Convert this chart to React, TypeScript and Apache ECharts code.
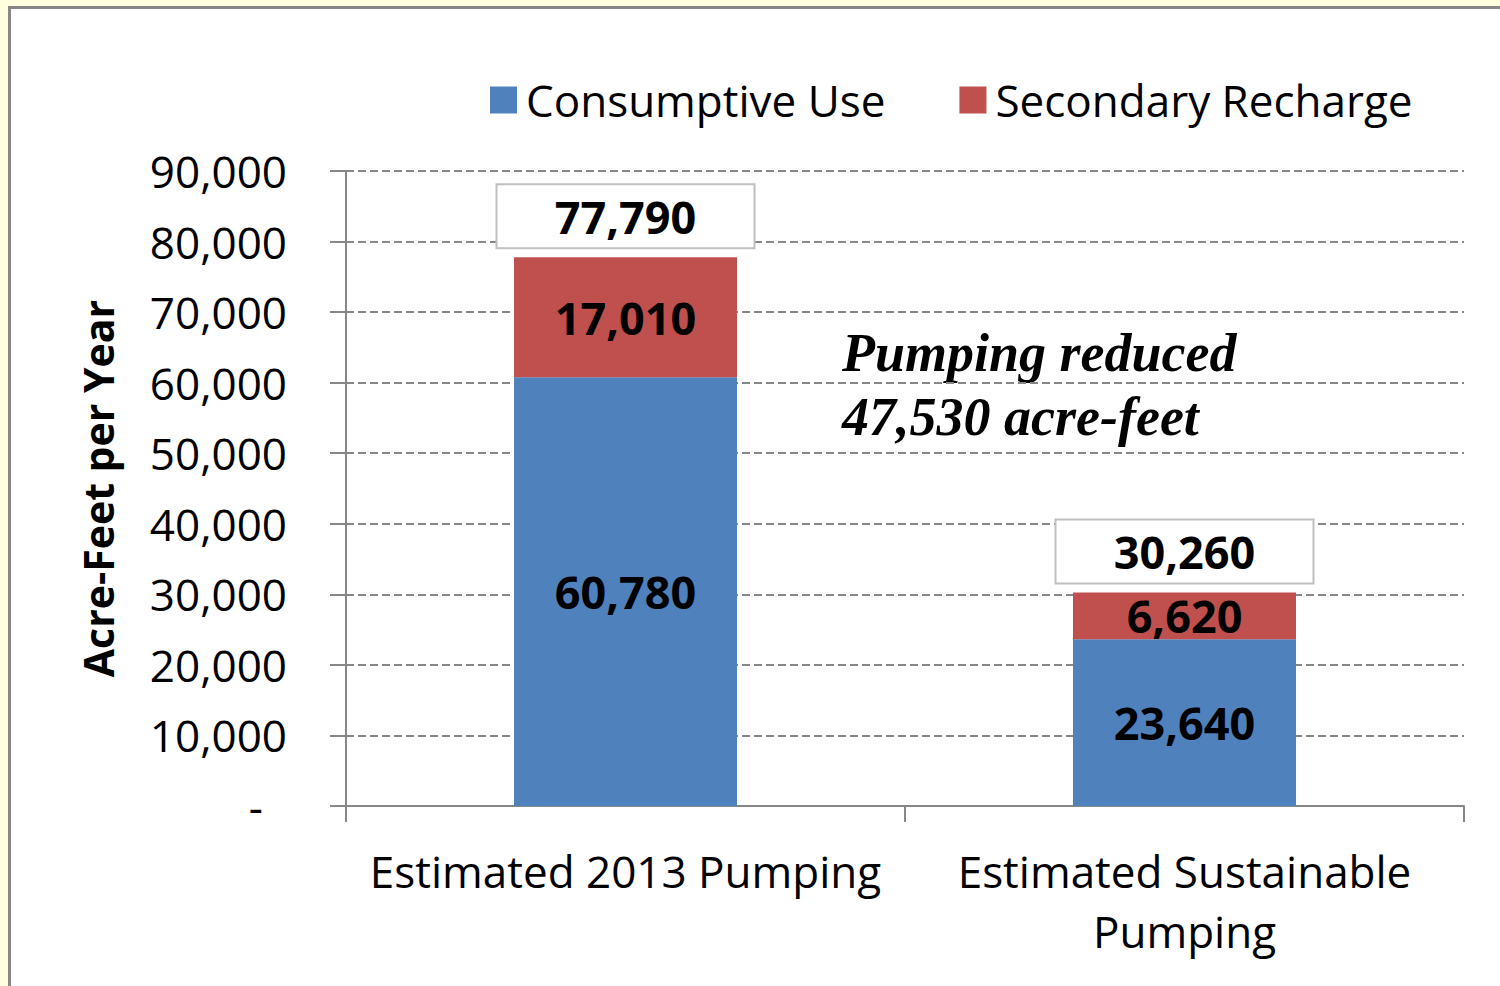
import React, { useEffect, useRef } from "react";
import * as echarts from "echarts";

const categories = ["Estimated 2013 Pumping", "Estimated Sustainable\nPumping"];
const consumptiveUse = [60780, 23640];
const secondaryRecharge = [17010, 6620];
const totals = consumptiveUse.map((v, i) => v + secondaryRecharge[i]);
const yTicks = [0, 10000, 20000, 30000, 40000, 50000, 60000, 70000, 80000, 90000];
const annotationLines = ["Pumping reduced", "47,530 acre-feet"];

const FONT = "'Open Sans', 'Noto Sans', sans-serif";
const GREY = "#878787";
const fmt = (v: number) => v.toLocaleString("en-US");

export default function App() {
  const ref = useRef<HTMLDivElement>(null);
  useEffect(() => {
    if (!ref.current) return;
    const chart = echarts.init(ref.current, undefined, { renderer: "svg" });
    const labelStyle = {
      show: true,
      position: "inside",
      color: "#000",
      fontFamily: FONT,
      fontWeight: "bold",
      fontSize: 45,
      formatter: (p: any) => fmt(p.value),
    };
    chart.setOption({
      animation: false,
      backgroundColor: "transparent",
      textStyle: { fontFamily: FONT },
      legend: {
        data: ["Consumptive Use", "Secondary Recharge"],
        top: 73,
        left: 485,
        itemWidth: 27,
        itemHeight: 27,
        itemGap: 74,
        icon: "rect",
        textStyle: { fontSize: 44, color: "#000", fontFamily: FONT, padding: [0, 0, 0, 4] },
      },
      grid: { left: 346, right: 36, top: 171, bottom: 180, containLabel: false },
      xAxis: {
        type: "category",
        data: categories,
        axisLine: { show: true, lineStyle: { color: GREY, width: 2 } },
        axisTick: { show: true, length: 16, lineStyle: { color: GREY, width: 2 } },
        axisLabel: {
          color: "#000",
          fontSize: 44,
          fontFamily: FONT,
          lineHeight: 60,
          margin: 35,
          interval: 0,
        },
      },
      yAxis: {
        type: "value",
        min: yTicks[0],
        max: yTicks[yTicks.length - 1],
        interval: yTicks[1] - yTicks[0],
        name: "Acre-Feet per Year",
        nameLocation: "middle",
        nameRotate: 90,
        nameGap: 228,
        nameTextStyle: { fontSize: 41, fontWeight: "bold", color: "#000", fontFamily: FONT },
        axisLine: { show: true, lineStyle: { color: GREY, width: 2 } },
        axisTick: { show: true, length: 16, lineStyle: { color: GREY, width: 2 } },
        axisLabel: {
          color: "#000",
          fontSize: 44,
          fontFamily: FONT,
          margin: 59,
          formatter: (v: number) => (v === 0 ? "{z|-}" : fmt(v)),
          rich: { z: { fontSize: 44, color: "#000", fontFamily: FONT, padding: [0, 24, 0, 0] } },
        },
        splitLine: { show: true, lineStyle: { color: GREY, width: 2, type: [8, 4] } },
      },
      series: [
        {
          name: "Consumptive Use",
          type: "bar",
          stack: "total",
          barWidth: 223,
          data: consumptiveUse,
          itemStyle: { color: "#4F81BD" },
          label: labelStyle,
        },
        {
          name: "Secondary Recharge",
          type: "bar",
          stack: "total",
          barWidth: 223,
          data: secondaryRecharge,
          itemStyle: { color: "#C0504D" },
          label: labelStyle,
        },
        {
          name: "Total",
          type: "bar",
          stack: "total",
          barWidth: 223,
          data: totals.map(() => 0),
          itemStyle: { color: "transparent" },
          label: {
            show: true,
            position: "top",
            distance: 10,
            color: "#000",
            fontFamily: FONT,
            fontWeight: "bold",
            fontSize: 45,
            width: 256,
            height: 62,
            lineHeight: 62,
            align: "center",
            backgroundColor: "#fff",
            borderColor: "#BFBFBF",
            borderWidth: 2,
            formatter: (p: any) => fmt(totals[p.dataIndex]),
          },
        },
      ],
      graphic: [
        {
          type: "text",
          left: 842,
          top: 321,
          style: {
            text: annotationLines.join("\n"),
            font: "italic bold 54px 'Liberation Serif', 'Times New Roman', serif",
            lineHeight: 64,
            fill: "#000",
          },
        },
      ],
    });
    return () => chart.dispose();
  }, []);

  return (
    <div style={{ position: "absolute", left: 0, top: 0, width: 1500, height: 986, background: "#FFFFE0", overflow: "hidden" }}>
      <div
        style={{
          position: "absolute",
          left: 8,
          top: 6,
          width: 1600,
          height: 1100,
          borderLeft: `3px solid ${GREY}`,
          borderTop: `3px solid ${GREY}`,
          background: "#fff",
        }}
      />
      <div ref={ref} style={{ position: "absolute", left: 0, top: 0, width: 1500, height: 986 }} />
    </div>
  );
}
